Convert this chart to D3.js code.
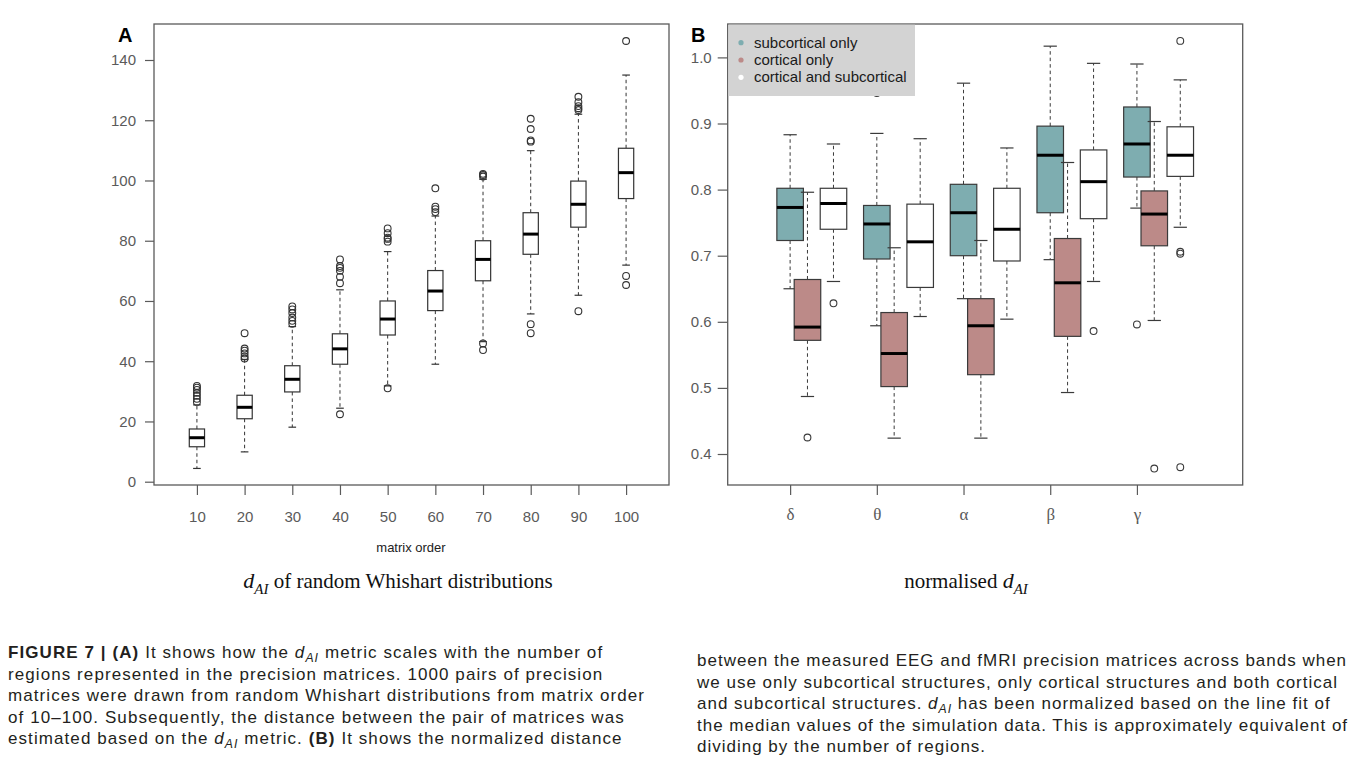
<!DOCTYPE html>
<html><head><meta charset="utf-8">
<script src="https://cdn.jsdelivr.net/npm/d3@7"></script>
<style>body{margin:0;background:#fff}svg{display:block}</style>
</head><body><svg id="c" width="1356" height="760"></svg>
<script>
// ---------- Panel A data ----------
const orders = [10,20,30,40,50,60,70,80,90,100];
const aWhiskLo = [4.4, 9.9, 18.1, 24.4, 31.8, 39.0, 46.5, 55.7, 61.9, 71.9];
const aQ1      = [11.6, 20.9, 29.8, 39.0, 48.7, 56.8, 66.7, 75.5, 84.5, 94.0];
const aMedian  = [14.6, 24.7, 34.0, 44.1, 54.0, 63.3, 73.8, 82.2, 92.1, 102.6];
const aQ3      = [17.5, 28.7, 38.5, 49.1, 60.0, 70.1, 80.0, 89.3, 99.8, 110.7];
const aWhiskHi = [25.5, 40.6, 51.5, 63.7, 76.4, 88.2, 100.4, 109.9, 122.0, 135.0];
const aOutliers = [
  [26.5, 27.5, 28.5, 29.5, 30.5, 31.2, 31.8],
  [40.9, 41.6, 42.6, 43.5, 44.2, 49.3],
  [52.4, 53.4, 54.5, 56.0, 57.2, 58.2],
  [22.4, 65.9, 68.0, 70.0, 71.0, 71.6, 73.8],
  [31.0, 79.7, 80.6, 81.0, 82.5, 84.1],
  [89.5, 90.5, 91.3, 97.4],
  [43.7, 45.9, 101.3, 101.8, 102.2],
  [49.3, 52.3, 112.9, 113.3, 117.1, 120.5],
  [56.6, 123.4, 124.0, 124.7, 126.0, 127.8],
  [65.3, 68.3, 146.3]
];
const aTicks = [0, 20, 40, 60, 80, 100, 120, 140];

// ---------- Panel B data ----------
const bands = ["δ", "θ", "α", "β", "γ"];
const seriesNames = ["subcortical only", "cortical only", "cortical and subcortical"];
// [whisker low, Q1, median, Q3, whisker high]
const subcortical = [
  [0.650, 0.723, 0.773, 0.802, 0.883],
  [0.594, 0.695, 0.748, 0.776, 0.885],
  [0.635, 0.700, 0.765, 0.808, 0.961],
  [0.694, 0.765, 0.852, 0.896, 1.017],
  [0.772, 0.819, 0.869, 0.925, 0.990]
];
const cortical = [
  [0.487, 0.572, 0.592, 0.664, 0.796],
  [0.424, 0.502, 0.552, 0.614, 0.712],
  [0.424, 0.520, 0.594, 0.635, 0.723],
  [0.493, 0.578, 0.659, 0.726, 0.841],
  [0.602, 0.715, 0.763, 0.798, 0.903]
];
const both = [
  [0.661, 0.740, 0.779, 0.802, 0.869],
  [0.608, 0.652, 0.721, 0.778, 0.877],
  [0.604, 0.692, 0.740, 0.802, 0.863],
  [0.661, 0.756, 0.812, 0.860, 0.991],
  [0.743, 0.820, 0.852, 0.895, 0.966]
];
const subcorticalOut = [[], [0.946], [], [], [0.596]];
const corticalOut    = [[0.425], [], [], [], [0.378]];
const bothOut        = [[0.628], [], [], [0.586], [1.025, 0.706, 0.703, 0.380]];
const bTicks = [0.4, 0.5, 0.6, 0.7, 0.8, 0.9, 1.0];

// ---------- Caption text ----------
const captionLeft = [
  [{t:"FIGURE 7 | (A)", b:1}, {t:" It shows how the "}, {t:"d", i:1}, {t:"AI", i:1, sub:1}, {t:" metric scales with the number of"}],
  [{t:"regions represented in the precision matrices. 1000 pairs of precision"}],
  [{t:"matrices were drawn from random Whishart distributions from matrix order"}],
  [{t:"of 10–100. Subsequently, the distance between the pair of matrices was"}],
  [{t:"estimated based on the "}, {t:"d", i:1}, {t:"AI", i:1, sub:1}, {t:" metric. "}, {t:"(B)", b:1}, {t:" It shows the normalized distance"}]
];
const captionRight = [
  [{t:"between the measured EEG and fMRI precision matrices across bands when"}],
  [{t:"we use only subcortical structures, only cortical structures and both cortical"}],
  [{t:"and subcortical structures. "}, {t:"d", i:1}, {t:"AI", i:1, sub:1}, {t:" has been normalized based on the line fit of"}],
  [{t:"the median values of the simulation data. This is approximately equivalent of"}],
  [{t:"dividing by the number of regions."}]
];

// ---------- Drawing ----------
const svg = d3.select("#c");
svg.append("rect").attr("width", 1356).attr("height", 760).attr("fill", "#fff");
const SANS = "'Liberation Sans', Arial, Helvetica, sans-serif";
const SERIF = "'Liberation Serif', 'Times New Roman', serif";
const AXC = "#5a5a5a";

function styleAxis(g) {
  g.select(".domain").remove();
  g.selectAll(".tick line").attr("stroke", AXC).attr("stroke-width", 1.2);
  g.selectAll(".tick text").attr("fill", AXC).style("font-family", SANS).style("font-size", "15px");
}

function drawBox(g, x, y, cx, w, s, outs, fill, stroke) {
  const [lo, q1, med, q3, hi] = s;
  const dash = "3.5,3";
  g.append("line").attr("x1", cx).attr("x2", cx).attr("y1", y(q3)).attr("y2", y(hi))
    .attr("stroke", stroke).attr("stroke-width", 1).attr("stroke-dasharray", dash);
  g.append("line").attr("x1", cx).attr("x2", cx).attr("y1", y(q1)).attr("y2", y(lo))
    .attr("stroke", stroke).attr("stroke-width", 1).attr("stroke-dasharray", dash);
  [lo, hi].forEach(v => g.append("line").attr("x1", cx - w / 4).attr("x2", cx + w / 4)
    .attr("y1", y(v)).attr("y2", y(v)).attr("stroke", stroke).attr("stroke-width", 1.2));
  g.append("rect").attr("x", cx - w / 2).attr("y", y(q3)).attr("width", w).attr("height", y(q1) - y(q3))
    .attr("fill", fill).attr("stroke", stroke).attr("stroke-width", 1.2);
  g.append("line").attr("x1", cx - w / 2).attr("x2", cx + w / 2).attr("y1", y(med)).attr("y2", y(med))
    .attr("stroke", "#000").attr("stroke-width", 3);
  outs.forEach(v => g.append("circle").attr("cx", cx).attr("cy", y(v)).attr("r", 3.4)
    .attr("fill", "none").attr("stroke", stroke).attr("stroke-width", 1.1));
}

// ===== Panel A =====
const gA = svg.append("g");
const ax = d3.scaleLinear().domain([0.1, 10.9]).range([154, 669]);
const ay = d3.scaleLinear().domain([0, 140]).range([481.7, 60]);
gA.append("g").attr("transform", "translate(154,0)")
  .call(d3.axisLeft(ay).tickValues(aTicks).tickSize(9).tickPadding(9)).call(styleAxis);
gA.append("g").attr("transform", "translate(0,485)")
  .call(d3.axisBottom(ax).tickValues(d3.range(1, 11)).tickFormat(d => orders[d - 1]).tickSize(10).tickPadding(16))
  .call(styleAxis);
const aw = ax(1.32) - ax(1);
orders.forEach((o, i) => {
  drawBox(gA, ax, ay, ax(i + 1), aw,
    [aWhiskLo[i], aQ1[i], aMedian[i], aQ3[i], aWhiskHi[i]], aOutliers[i], "#fff", "#333");
});
gA.append("rect").attr("x", 154).attr("y", 24).attr("width", 515).attr("height", 461)
  .attr("fill", "none").attr("stroke", AXC).attr("stroke-width", 1.3);
gA.append("text").attr("x", 411).attr("y", 552).attr("text-anchor", "middle")
  .style("font-family", SANS).style("font-size", "13px").attr("fill", "#222").text("matrix order");
gA.append("text").attr("x", 118).attr("y", 42).style("font-family", SANS).style("font-size", "20px")
  .style("font-weight", "bold").attr("fill", "#000").text("A");

// ===== Panel B =====
const gB = svg.append("g");
const bx = d3.scaleLinear().domain([0.28, 6.22]).range([727.7, 1242.7]);
const by = d3.scaleLinear().domain([0.4, 1.0]).range([454, 57.4]);
const colors = ["#7eadb0", "#bc8a88", "#ffffff"];
const offsets = [0, 0.2, 0.5];
gB.append("g").attr("transform", "translate(727.7,0)")
  .call(d3.axisLeft(by).tickValues(bTicks).tickFormat(d3.format(".1f")).tickSize(10).tickPadding(6)).call(styleAxis);
const xAxB = gB.append("g").attr("transform", "translate(0,485)")
  .call(d3.axisBottom(bx).tickValues(d3.range(1, 6)).tickFormat(d => bands[d - 1]).tickSize(10).tickPadding(13))
  .call(styleAxis);
xAxB.selectAll(".tick text").style("font-family", SERIF).style("font-size", "17px");
const bw = bx(1.306) - bx(1);
const seriesData = [subcortical, cortical, both];
const seriesOut = [subcorticalOut, corticalOut, bothOut];
bands.forEach((b, i) => {
  seriesData.forEach((ser, k) => {
    drawBox(gB, bx, by, bx(i + 1 + offsets[k]), bw, ser[i], seriesOut[k][i], colors[k], "#3a3a3a");
  });
});
gB.append("rect").attr("x", 727.7).attr("y", 24).attr("width", 515).attr("height", 461)
  .attr("fill", "none").attr("stroke", AXC).attr("stroke-width", 1.3);
// legend
const leg = gB.append("g");
leg.append("rect").attr("x", 728.4).attr("y", 24.7).attr("width", 186.6).attr("height", 71.3).attr("fill", "#d3d3d3");
seriesNames.forEach((n, k) => {
  leg.append("circle").attr("cx", 741).attr("cy", 42.7 + k * 17.3).attr("r", 2.6).attr("fill", colors[k]);
  leg.append("text").attr("x", 754).attr("y", 47.8 + k * 17.3).style("font-family", SANS)
    .style("font-size", "15px").attr("fill", "#1a1a1a").text(n);
});
gB.append("text").attr("x", 691).attr("y", 42).style("font-family", SANS).style("font-size", "20px")
  .style("font-weight", "bold").attr("fill", "#000").text("B");

// ===== Panel titles (serif, with subscript) =====
function dTitle(cx, y, pre, post) {
  const t = svg.append("text").attr("x", cx).attr("y", y).attr("text-anchor", "middle")
    .style("font-family", SERIF).style("font-size", "21px").attr("fill", "#111");
  if (pre) t.append("tspan").text(pre);
  t.append("tspan").style("font-style", "italic").style("font-size", "22px").text("d");
  t.append("tspan").style("font-style", "italic").style("font-size", "15px").attr("dy", 6).text("AI");
  if (post) t.append("tspan").attr("dy", -6).text(post);
}
dTitle(398, 588, null, " of random Whishart distributions");
dTitle(966, 588, "normalised ", null);

// ===== Caption body =====
function captionBlock(lines, x0, y0, lh, refIdx, refWidth) {
  const fs = 17;
  const texts = lines.map((segs, li) => {
    const t = svg.append("text").attr("x", x0).attr("y", y0 + li * lh)
      .style("font-family", SANS).style("font-size", fs + "px").attr("fill", "#231f20");
    let shifted = false;
    segs.forEach(s => {
      const ts = t.append("tspan").text(s.t);
      if (s.b) ts.style("font-weight", "bold");
      if (s.i) ts.style("font-style", "italic");
      if (s.sub) { ts.style("font-size", "0.72em").attr("dy", "0.3em"); shifted = true; }
      else if (shifted) { ts.attr("dy", "-0.216em"); shifted = false; }
    });
    return t;
  });
  const refNode = texts[refIdx].node();
  const w = refNode.getComputedTextLength();
  const n = refNode.textContent.length;
  const ls = Math.max(0, (refWidth - w) / n);
  texts.forEach(t => t.style("letter-spacing", ls + "px"));
}
captionBlock(captionLeft, 8, 658, 21.5, 2, 637);
captionBlock(captionRight, 697, 666, 21.5, 1, 641);
</script>
</body></html>
